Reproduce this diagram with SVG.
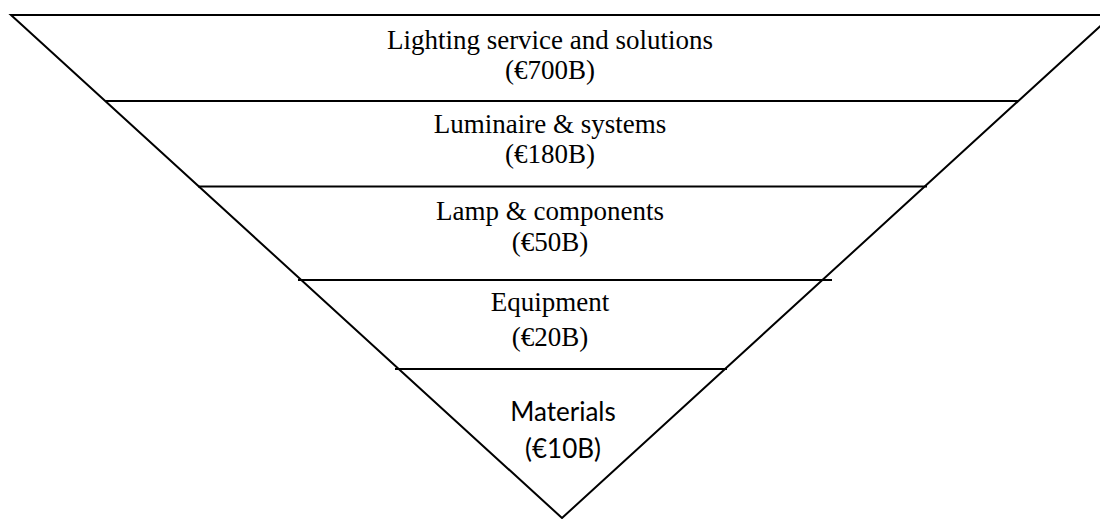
<svg xmlns="http://www.w3.org/2000/svg" width="1100" height="519" viewBox="0 0 1100 519">
  <style>
    .ln { stroke: #000; stroke-width: 2; fill: none; }
    .serif { font-size: 27px; fill: #000; text-anchor: middle; }
    .sans { font-size: 26px; fill: #000; text-anchor: middle; }
  </style>
  <rect width="1100" height="519" fill="#fff"/>
  <g id="connectors">
    <path class="ln" d="M1120,15 H11 L562,518 L1120,8" stroke-linejoin="miter"/>
    <line class="ln" x1="105" y1="101" x2="1018" y2="101"/>
    <line class="ln" x1="198" y1="186.5" x2="927" y2="186.5"/>
    <line class="ln" x1="298" y1="280" x2="832" y2="280"/>
    <line class="ln" x1="395" y1="369" x2="727" y2="369"/>
  </g>
  <g font-family="'Liberation Serif', 'Times New Roman', serif">
    <g id="tier-lighting">
      <text class="serif" x="550" y="49">Lighting service and solutions</text>
      <text class="serif" x="550" y="79">(€700B)</text>
    </g>
    <g id="tier-luminaire">
      <text class="serif" x="550" y="133">Luminaire &amp; systems</text>
      <text class="serif" x="550" y="163">(€180B)</text>
    </g>
    <g id="tier-lamp">
      <text class="serif" x="550" y="220">Lamp &amp; components</text>
      <text class="serif" x="550" y="251">(€50B)</text>
    </g>
    <g id="tier-equipment">
      <text class="serif" x="550" y="311">Equipment</text>
      <text class="serif" x="550" y="346">(€20B)</text>
    </g>
  </g>
  <g id="tier-materials" font-family="Lato, 'Open Sans', 'Liberation Sans', sans-serif">
    <text class="sans" x="563" y="421">Materials</text>
    <text class="sans" x="563" y="458">(€10B)</text>
  </g>
</svg>
